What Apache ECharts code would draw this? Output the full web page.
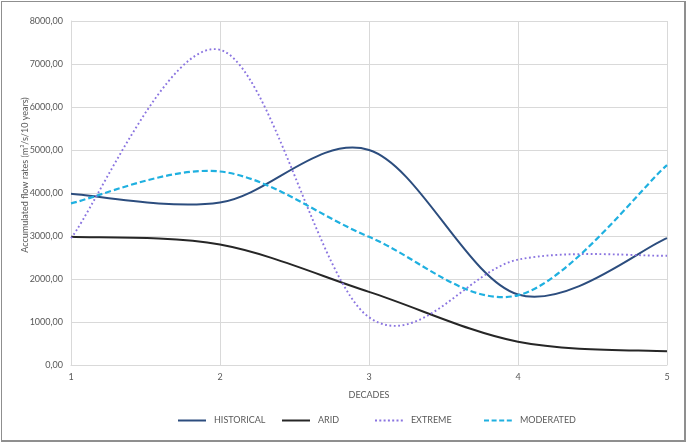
<!DOCTYPE html>
<html>
<head>
<meta charset="utf-8">
<script src="https://cdn.jsdelivr.net/npm/echarts@6/dist/echarts.min.js"></script>
<style>
  html, body { margin: 0; padding: 0; background: #fff; }
  #frame { position: absolute; left: 1px; top: 1px; width: 682px; height: 438px; border: 1px solid #8f8f8f; border-right-width: 2px; border-bottom-width: 2px; }
  #chart { position: absolute; left: 0; top: 0; width: 688px; height: 443px; }
</style>
</head>
<body>
<div id="frame"></div>
<div id="chart"></div>
<script>
// Accumulated flow rates per decade, four climate scenarios
const decades = [1, 2, 3, 4, 5];
const historical = [3980, 3780, 5000, 1640, 2950];
const arid = [2980, 2800, 1700, 540, 320];
const extreme = [2950, 7330, 1110, 2450, 2540];
const moderated = [3760, 4500, 2980, 1620, 4650];

const FONT = 'Lato';
const GREY = '#595959';

// legend glyphs (filled shapes so they scale cleanly)
const ICON_SOLID = 'path://M0,0h28v2h-28z';
const ICON_DASH = 'path://M0,0h5v2h-5zM7.6,0h5v2h-5zM15.2,0h5v2h-5zM22.8,0h5v2h-5z';
const ICON_DOT = 'path://M0,0h2v2h-2zM4.3,0h2v2h-2zM8.6,0h2v2h-2zM12.9,0h2v2h-2zM17.2,0h2v2h-2zM21.5,0h2v2h-2zM25.8,0h2v2h-2z';

const series = [
  { name: 'HISTORICAL', data: historical, color: '#2c4d7e', dash: null, width: 2, icon: ICON_SOLID },
  { name: 'ARID', data: arid, color: '#262626', dash: null, width: 2, icon: ICON_SOLID },
  { name: 'EXTREME', data: extreme, color: '#8a74e0', dash: [1.8, 2.6], width: 1.9, icon: ICON_DOT },
  { name: 'MODERATED', data: moderated, color: '#1fb0e0', dash: [6, 3], width: 2.2, icon: ICON_DASH },
];
const legendLeft = [173, 277, 370, 479];

function pairs(ys) { return decades.map((x, i) => [x, ys[i]]); }

// Excel-style smoothed line (Catmull-Rom through the data points, in pixel space)
function smoothPath(pts) {
  let d = 'M' + pts[0][0] + ',' + pts[0][1];
  for (let i = 0; i < pts.length - 1; i++) {
    const p0 = pts[i - 1] || pts[i];
    const p1 = pts[i];
    const p2 = pts[i + 1];
    const p3 = pts[i + 2] || pts[i + 1];
    const c1x = p1[0] + (p2[0] - p0[0]) / 6;
    const c1y = p1[1] + (p2[1] - p0[1]) / 6;
    const c2x = p2[0] - (p3[0] - p1[0]) / 6;
    const c2y = p2[1] - (p3[1] - p1[1]) / 6;
    d += 'C' + c1x + ',' + c1y + ',' + c2x + ',' + c2y + ',' + p2[0] + ',' + p2[1];
  }
  return d;
}

const chart = echarts.init(document.getElementById('chart'), null, { renderer: 'canvas' });

chart.setOption({
  animation: false,
  backgroundColor: 'transparent',
  textStyle: { fontFamily: FONT },
  grid: { left: 71, right: 21, top: 21, bottom: 78 },
  legend: series.map((s, i) => ({
    data: [{ name: s.name, icon: s.icon }],
    left: legendLeft[i],
    top: 411,
    itemWidth: 28,
    itemHeight: 2,
    itemGap: 0,
    textStyle: { color: GREY, fontSize: 9, fontFamily: FONT, padding: [0, 0, 0, 3] },
  })),
  xAxis: {
    type: 'value',
    min: 1,
    max: 5,
    interval: 1,
    name: 'DECADES',
    nameLocation: 'middle',
    nameGap: 26,
    nameTextStyle: { color: GREY, fontSize: 9, fontFamily: FONT },
    axisLine: { show: true, lineStyle: { color: '#d9d9d9' } },
    axisTick: { show: false },
    axisLabel: { color: GREY, fontSize: 9, margin: 8 },
    splitLine: { show: true, lineStyle: { color: '#d9d9d9', width: 1 } },
  },
  yAxis: {
    type: 'value',
    min: 0,
    max: 8000,
    interval: 1000,
    name: 'Accumulated flow rates (m\u00b3/s/10 years)',
    nameLocation: 'middle',
    nameGap: 41,
    nameMoveOverlap: false,
    nameTextStyle: { color: GREY, fontSize: 9, fontFamily: FONT, padding: [0, 0, 0, 36] },
    axisLine: { show: true, lineStyle: { color: '#d9d9d9' } },
    axisTick: { show: false },
    axisLabel: {
      color: GREY,
      fontSize: 9,
      margin: 8,
      formatter: (v) => v.toFixed(2).replace('.', ','),
    },
    splitLine: { show: true, lineStyle: { color: '#d9d9d9', width: 1 } },
  },
  series: series.map(s => ({
    name: s.name,
    type: 'custom',
    coordinateSystem: 'cartesian2d',
    encode: { x: 0, y: 1 },
    data: pairs(s.data),
    itemStyle: { color: s.color },
    renderItem: (params, api) => {
      if (params.dataIndex !== 0) return;
      const pts = decades.map((x, i) => api.coord([x, s.data[i]]));
      return {
        type: 'path',
        shape: { pathData: smoothPath(pts) },
        style: {
          fill: 'none',
          stroke: s.color,
          lineWidth: s.width,
          lineDash: s.dash,
        },
      };
    },
  })),
});
</script>
</body>
</html>
